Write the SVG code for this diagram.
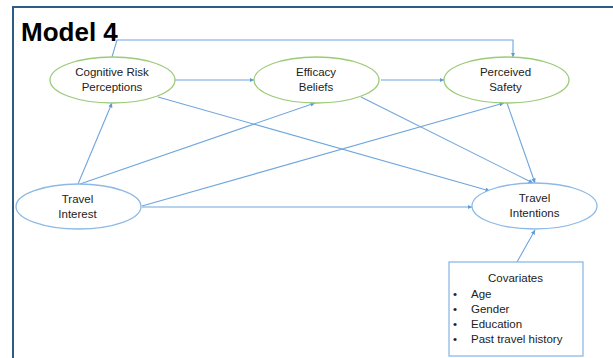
<svg xmlns="http://www.w3.org/2000/svg" width="613" height="358" viewBox="0 0 613 358">
<style>
.t{font-family:"Liberation Sans",Arial,sans-serif;font-size:11.5px;fill:#222;text-anchor:middle}
.tl{font-family:"Liberation Sans",Arial,sans-serif;font-size:11.5px;fill:#222}
.g{fill:#fff;stroke:#9CCB78;stroke-width:1.3}
.b{fill:#fff;stroke:#8DB9E6;stroke-width:1.3}
.c{fill:none;stroke:#6FA6DD;stroke-width:1.1}
</style>
<defs>
<marker id="a" viewBox="0 0 10 10" refX="10" refY="5" markerWidth="4.5" markerHeight="4.5" markerUnits="userSpaceOnUse" orient="auto"><path d="M0,0 L10,5 L0,10 z" fill="#5B9BD5"/></marker>
</defs>
<rect width="613" height="358" fill="#fff"/>
<path d="M13,358 V7 H613" fill="none" stroke="#2E5C8A" stroke-width="2"/>
<text x="21" y="41" font-family="'Liberation Sans',Arial,sans-serif" font-size="26" font-weight="bold" fill="#000">Model 4</text>
<g id="connectors">
<path class="c" d="M112,57 L117,40 H513 V57" marker-end="url(#a)"/>
<path class="c" d="M175,80 H254" marker-end="url(#a)"/>
<path class="c" d="M381,80 H444" marker-end="url(#a)"/>
<path class="c" d="M158,97 L490,191" marker-end="url(#a)"/>
<path class="c" d="M361,97 L533,183" marker-end="url(#a)"/>
<path class="c" d="M507,103 L535,183" marker-end="url(#a)"/>
<path class="c" d="M78,184 L112,103" marker-end="url(#a)"/>
<path class="c" d="M80,184 L315,103" marker-end="url(#a)"/>
<path class="c" d="M142,206 L504,103" marker-end="url(#a)"/>
<path class="c" d="M142,207 H472" marker-end="url(#a)"/>
<path class="c" d="M517,262 L535,230" marker-end="url(#a)"/>
</g>
<g id="crp">
<ellipse class="g" cx="112.5" cy="80" rx="62.5" ry="23"/>
<text class="t" x="112" y="76">Cognitive Risk</text>
<text class="t" x="112" y="91">Perceptions</text>
</g>
<g id="eb">
<ellipse class="g" cx="316.5" cy="80" rx="62.5" ry="23"/>
<text class="t" x="316" y="76">Efficacy</text>
<text class="t" x="316" y="91">Beliefs</text>
</g>
<g id="ps">
<ellipse class="g" cx="506.5" cy="80" rx="62.5" ry="23"/>
<text class="t" x="505.5" y="76">Perceived</text>
<text class="t" x="505.5" y="91">Safety</text>
</g>
<g id="tint">
<ellipse class="b" cx="78.5" cy="206.5" rx="62.5" ry="22.5"/>
<text class="t" x="77.5" y="203">Travel</text>
<text class="t" x="77.5" y="218">Interest</text>
</g>
<g id="tin">
<ellipse class="b" cx="534.5" cy="206" rx="62.5" ry="23"/>
<text class="t" x="534.5" y="202">Travel</text>
<text class="t" x="534.5" y="217">Intentions</text>
</g>
<g id="cov">
<rect x="449" y="262" width="134" height="94" fill="#fff" stroke="#8DB9E6" stroke-width="1.3"/>
<text class="t" x="515.5" y="282">Covariates</text>
<text class="tl" x="453" y="298">•</text><text class="tl" x="471" y="298">Age</text>
<text class="tl" x="453" y="313">•</text><text class="tl" x="471" y="313">Gender</text>
<text class="tl" x="453" y="328">•</text><text class="tl" x="471" y="328">Education</text>
<text class="tl" x="453" y="343">•</text><text class="tl" x="471" y="343">Past travel history</text>
</g>
</svg>
